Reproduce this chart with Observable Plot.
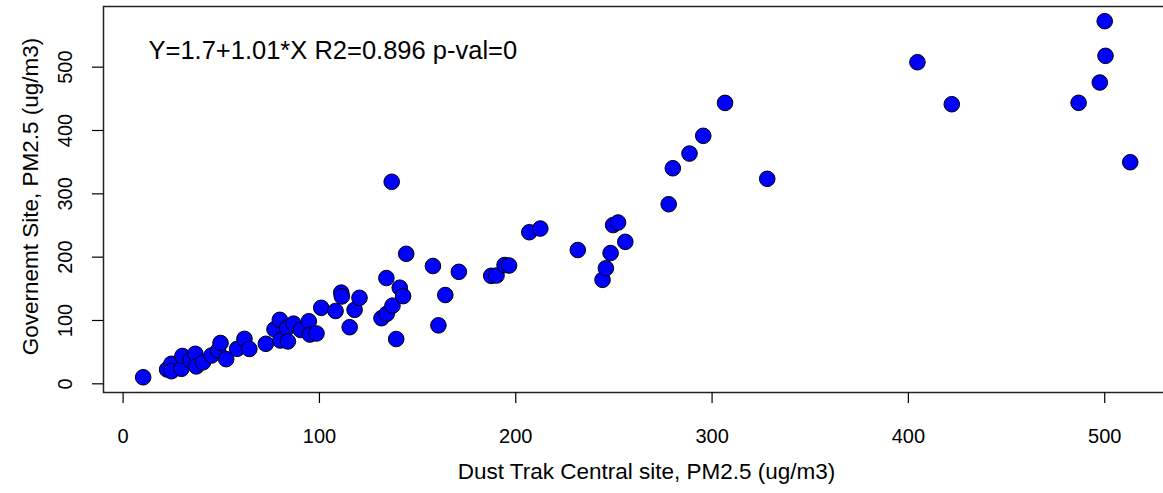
<!DOCTYPE html>
<html>
<head>
<meta charset="utf-8">
<script src="https://cdn.jsdelivr.net/npm/d3@7"></script>
<script src="https://cdn.jsdelivr.net/npm/@observablehq/plot@0.6"></script>
<style>
  html, body { margin: 0; padding: 0; background: #fff; overflow: hidden; }
</style>
</head>
<body>
<div id="chart"></div>
<script>
// Dust Trak Central site, PM2.5 (x) vs Governemt Site, PM2.5 (y)
const xVals = [10.2, 22.4, 24.6, 24.6, 29.7, 30.2, 34.3, 36.8, 37.3, 40.7, 45.0, 48.4, 49.6, 52.5, 58.1, 61.8, 64.3,
  72.7, 77.1, 79.8, 80.1, 83.5, 83.9, 86.8, 90.5, 94.6, 95.1, 98.5, 100.9, 108.2, 111.1, 111.4, 115.4, 117.9, 120.4,
  131.6, 134.1, 134.3, 136.8, 137.2, 139.1, 140.9, 142.6, 144.2, 157.8, 160.6, 164.1, 171.0, 187.5, 190.2, 194.3, 196.6,
  206.9, 212.5, 231.6, 244.2, 245.9, 248.3, 249.6, 252.1, 255.8, 277.9, 280.0, 288.5, 295.5, 306.6, 328.1,
  404.6, 422.1, 486.7, 497.5, 500.0, 500.4, 513.0];
const yVals = [10.4, 22.6, 31.6, 19.9, 23.7, 44.0, 36.8, 47.4, 27.5, 34.0, 44.7, 52.6, 64.5, 39.0, 55.3, 71.0, 55.0,
  63.2, 86.0, 101.0, 68.4, 88.0, 67.0, 95.0, 85.0, 98.8, 77.8, 79.5, 120.0, 115.0, 144.0, 138.0, 89.4, 116.8, 135.8,
  103.6, 167.0, 110.5, 319.0, 123.4, 70.7, 151.8, 138.5, 205.3, 186.0, 92.3, 140.2, 176.8, 170.5, 171.0, 187.6, 186.8,
  239.4, 245.2, 211.3, 164.2, 182.5, 206.5, 250.7, 254.7, 224.2, 283.6, 340.4, 363.6, 391.6, 443.6, 323.7,
  507.8, 441.5, 443.7, 475.8, 572.6, 517.9, 349.9];
const xTicks = [0, 100, 200, 300, 400, 500];
const yTicks = [0, 100, 200, 300, 400, 500];
const xTitle = "Dust Trak Central site, PM2.5 (ug/m3)";
const yTitle = "Governemt Site, PM2.5 (ug/m3)";
const equation = "Y=1.7+1.01*X R2=0.896 p-val=0";

const rows = xVals.map((x, i) => ({x, y: yVals[i]}));

const chart = Plot.plot({
  width: 1163,
  height: 493,
  marginLeft: 103,
  marginRight: -6,
  marginTop: 6,
  marginBottom: 101,
  x: {domain: [-10, 533]},
  y: {domain: [-13.7, 595.8]},
  style: {fontFamily: "'Liberation Sans', Arial, sans-serif", fontSize: "20px", color: "#000", background: "#fff"},
  marks: [
    Plot.frame({stroke: "#222", strokeWidth: 1.5}),
    Plot.axisX({ticks: xTicks, tickSize: 11, tickPadding: 25, label: null, fontSize: 20, strokeWidth: 1.2}),
    Plot.axisY({ticks: yTicks, tickSize: 11, tickFormat: () => "", label: null, strokeWidth: 1.2}),
    Plot.text(yTicks, {y: d => d, text: d => String(d), frameAnchor: "left", textAnchor: "middle", dx: -38, rotate: -90, fontSize: 20, fill: "#000"}),
    Plot.dot(rows, {x: "x", y: "y", r: 7.8, fill: "#0000FF", stroke: "#000", strokeWidth: 1}),
    Plot.text([equation], {frameAnchor: "top-left", dx: 45, dy: 34, textAnchor: "start", fontSize: 25.5, fill: "#000"}),
    Plot.text([xTitle], {frameAnchor: "bottom", textAnchor: "middle", dx: 10, dy: 86, fontSize: 22.5, fill: "#000"}),
    Plot.text([yTitle], {frameAnchor: "left", textAnchor: "middle", dx: -73, dy: -3, rotate: -90, fontSize: 22.5, fill: "#000"})
  ]
});
document.getElementById("chart").append(chart);
</script>
</body>
</html>
